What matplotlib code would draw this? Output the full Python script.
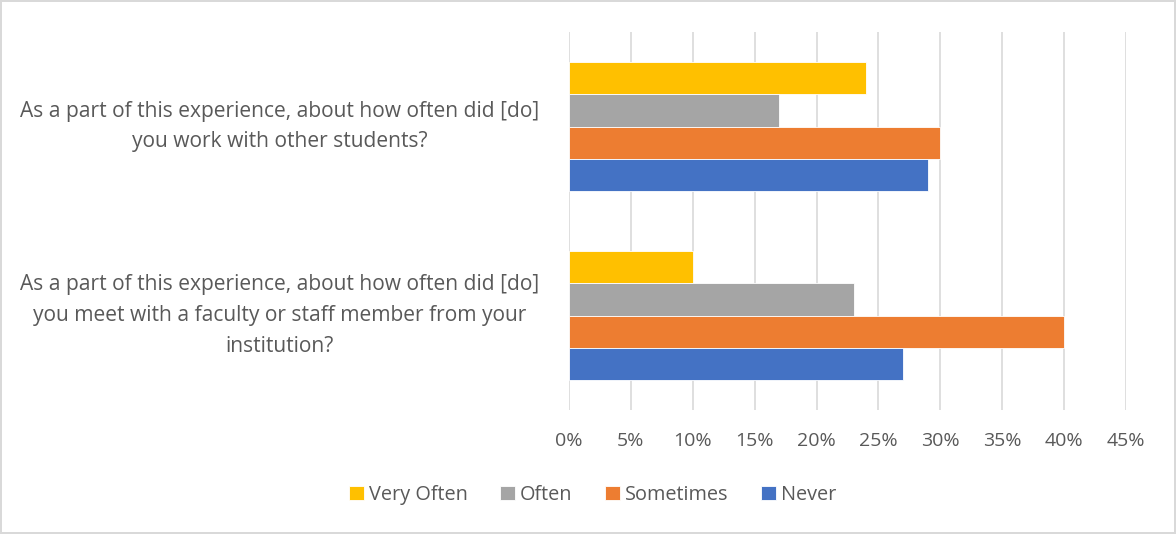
import numpy as np
import matplotlib
matplotlib.use("Agg")
import matplotlib.pyplot as plt
import matplotlib.transforms as mtransforms

questions = [
    "As a part of this experience, about how often did [do]\nyou meet with a faculty or staff member from your\ninstitution?",
    "As a part of this experience, about how often did [do]\nyou work with other students?",
]
series_names = ["Very Often", "Often", "Sometimes", "Never"]
very_often = [0.10, 0.24]
often = [0.23, 0.17]
sometimes = [0.40, 0.30]
never = [0.27, 0.29]
colors = ["#FFC000", "#A5A5A5", "#ED7D31", "#4472C4"]
xticks = np.arange(0, 0.46, 0.05)

plt.rcParams['font.family'] = ['Open Sans', 'DejaVu Sans']
text_col = "#595959"

fig = plt.figure(figsize=(11.76, 5.34), dpi=100)
fig.patch.set_edgecolor("#D9D9D9")
fig.patch.set_linewidth(1.5)
ax = fig.add_axes([569/1176, 1-410/534, (1126-569)/1176, 378/534])

y = np.arange(len(questions))
h = 0.171
values = [very_often, often, sometimes, never]
for i, (name, vals, c) in enumerate(zip(series_names, values, colors)):
    offset = (1.5 - i) * h
    ax.barh(y + offset, vals, height=h, color=c, label=name,
            edgecolor="white", linewidth=0.6, zorder=3)

ax.set_xlim(0, 0.45)
ax.set_ylim(-0.5, 1.5)
ax.set_xticks(xticks)
ax.set_xticklabels(["{:.0f}%".format(v * 100) for v in xticks],
                   fontsize=14, color=text_col)
ax.tick_params(axis='x', length=0, pad=16)
ax.set_yticks([])
ax.grid(axis='x', color="#D9D9D9", linewidth=1.2, zorder=0)
for s in ax.spines.values():
    s.set_visible(False)

trans = mtransforms.blended_transform_factory(fig.transFigure, ax.transData)
for yi, q in zip(y, questions):
    ax.text(280/1176, yi, q, transform=trans, ha='center', va='center',
            fontsize=15.1, color=text_col, linespacing=1.6)

fig.legend(loc='center', bbox_to_anchor=(0.504, 1-495/534), ncol=4,
           frameon=False, fontsize=14.3, labelcolor=text_col,
           handlelength=0.75, handleheight=0.75, handletextpad=0.25,
           columnspacing=1.65)

fig.savefig("out.png", dpi=100)
